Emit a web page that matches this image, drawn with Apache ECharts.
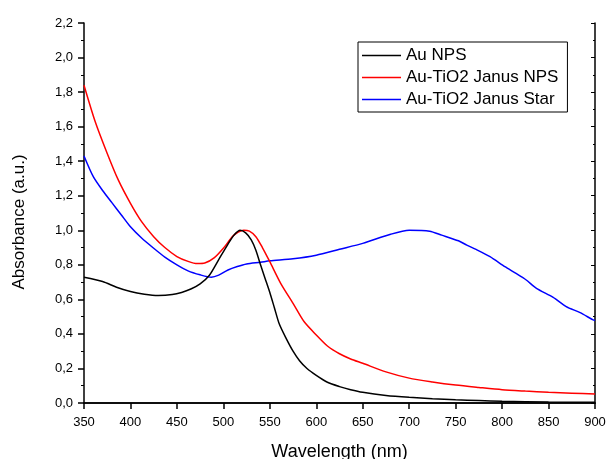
<!DOCTYPE html>
<html><head><meta charset="utf-8">
<script src="https://cdn.jsdelivr.net/npm/echarts@6/dist/echarts.min.js"></script>
<style>html,body{margin:0;padding:0;background:#fff}#c{width:607px;height:459px}</style>
</head><body><div id="c"></div>
<script>
var seriesNames = ['Au NPS', 'Au-TiO2 Janus NPS', 'Au-TiO2 Janus Star'];
var xTicks = [350,400,450,500,550,600,650,700,750,800,850,900];
var yTicks = [0,0.2,0.4,0.6,0.8,1.0,1.2,1.4,1.6,1.8,2.0,2.2];

var auX = [350,370,385,400,415,430,445,455,465,475,485,495,505,512,518,524,530,535,540,545,550,555,560,567,575,582,590,600,612,625,637,650,675,700,725,750,775,800,850,900];
var auY = [0.728,0.703,0.67,0.645,0.63,0.623,0.628,0.64,0.66,0.69,0.74,0.83,0.92,0.975,1.0,0.985,0.945,0.885,0.80,0.72,0.64,0.55,0.46,0.38,0.30,0.245,0.20,0.16,0.12,0.095,0.077,0.062,0.044,0.033,0.025,0.019,0.014,0.01,0.006,0.004];

var janusX = [350,362,375,387,400,412,425,437,450,462,472,480,490,500,510,516,522,528,535,542,550,562,575,587,600,612,625,637,650,675,700,725,750,775,800,825,850,875,900];
var janusY = [1.84,1.63,1.445,1.29,1.156,1.05,0.963,0.9,0.848,0.82,0.807,0.81,0.84,0.896,0.965,0.99,1.0,0.995,0.963,0.9,0.818,0.69,0.577,0.47,0.394,0.33,0.285,0.255,0.23,0.18,0.144,0.122,0.104,0.09,0.077,0.069,0.062,0.057,0.052];

var starX = [350,360,370,380,390,400,412,425,437,450,462,475,487,495,505,515,525,540,550,575,600,625,650,680,700,722,735,753,762,772,787,803,815,826,837,855,869,884,898,900];
var starY = [1.43,1.31,1.23,1.16,1.09,1.02,0.955,0.896,0.845,0.80,0.765,0.742,0.728,0.74,0.77,0.79,0.805,0.815,0.823,0.835,0.856,0.89,0.924,0.977,1.0,0.995,0.972,0.939,0.914,0.889,0.847,0.789,0.75,0.712,0.664,0.612,0.558,0.523,0.481,0.478];

function pairs(xs, ys){ return xs.map(function(x,i){ return [x, ys[i]]; }); }
var colors = ['#000000', '#ff0000', '#0000ff'];
var dataSets = [pairs(auX,auY), pairs(janusX,janusY), pairs(starX,starY)];

var chart = echarts.init(document.getElementById('c'), null, {renderer:'canvas'});
var font = 'Arial, "Liberation Sans", sans-serif';
var option = {
  animation: false,
  backgroundColor: '#fff',
  textStyle: {fontFamily: font},
  grid: {left: 84, right: 12, top: 23, bottom: 56, containLabel: false, outerBoundsMode: 'none'},
  legend: {
    orient: 'vertical', left: 358, top: 42,
    data: seriesNames.map(function(n){ return {name: n, icon: 'rect'}; }),
    borderColor: '#000', borderWidth: 1, borderRadius: 0,
    padding: [5, 9, 4, 4],
    itemWidth: 39, itemHeight: 1.5, itemGap: 5,
    textStyle: {fontSize: 17, color: '#000', fontFamily: font}
  },
  xAxis: [{
    type: 'value', min: 350, max: 900, interval: 50,
    name: 'Wavelength (nm)', nameLocation: 'middle', nameGap: 40,
    nameTextStyle: {fontSize: 18, color: '#000', fontFamily: font},
    axisLine: {lineStyle: {color: '#000', width: 1.5}},
    axisTick: {show: true, inside: false, length: 6, lineStyle: {color: '#000', width: 1.5}},
    axisLabel: {fontSize: 13, color: '#000', margin: 13, fontFamily: font},
    splitLine: {show: false}
  }, {
    type: 'value', min: 350, max: 900, interval: 50, position: 'top',
    axisLine: {show: true, lineStyle: {color: '#000', width: 1.5}},
    axisTick: {show: false}, axisLabel: {show: false}, splitLine: {show: false}
  }],
  yAxis: [{
    type: 'value', min: 0, max: 2.2, interval: 0.2,
    name: 'Absorbance (a.u.)', nameLocation: 'middle', nameGap: 56,
    nameTextStyle: {fontSize: 17, color: '#000', fontFamily: font, padding: [0, 18, 0, 0]},
    axisLine: {show: true, lineStyle: {color: '#000', width: 1.5}},
    axisTick: {show: true, inside: false, length: 6, lineStyle: {color: '#000', width: 1.5}},
    minorTick: {show: true, splitNumber: 2, length: 3, lineStyle: {color: '#000', width: 1}},
    axisLabel: {fontSize: 13, color: '#000', margin: 11, fontFamily: font,
      formatter: function(v){ return v.toFixed(1).replace('.', ','); }},
    splitLine: {show: false}
  }, {
    type: 'value', min: 0, max: 2.2, interval: 0.2, position: 'right',
    axisLine: {show: true, lineStyle: {color: '#000', width: 1.5}},
    axisTick: {show: true, inside: true, length: 4, lineStyle: {color: '#000', width: 1}},
    minorTick: {show: true, splitNumber: 2, length: 2, lineStyle: {color: '#000', width: 1}},
    axisLabel: {show: false}, splitLine: {show: false}
  }],
  series: seriesNames.map(function(n, i){
    return {
      name: n, type: 'line', data: dataSets[i], smooth: 0.25,
      symbol: 'none', color: colors[i],
      lineStyle: {color: colors[i], width: 1.5},
      xAxisIndex: 0, yAxisIndex: 0, z: 3 - i
    };
  })
};
chart.setOption(option);
</script></body></html>
